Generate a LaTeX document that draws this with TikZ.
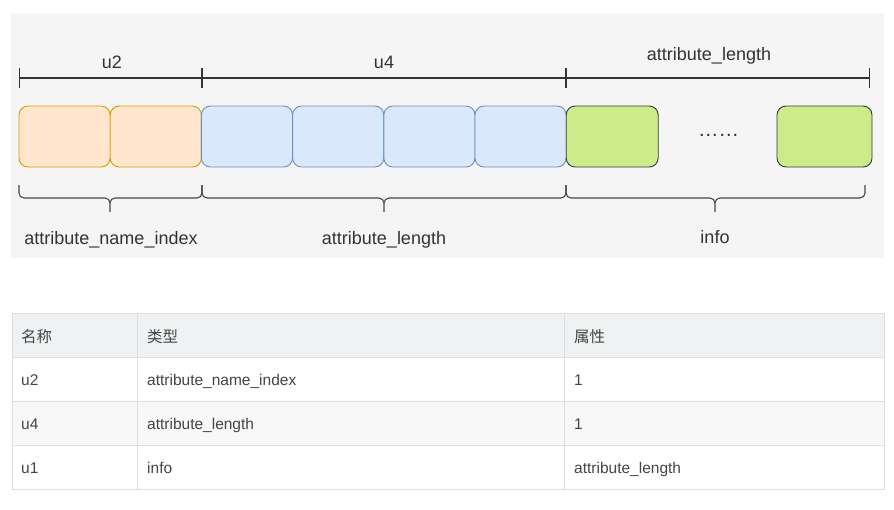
\documentclass[tikz,border=0pt]{standalone}
\usepackage{fontspec}
\setmainfont{Liberation Sans}
\newfontfamily\cjk{Noto Sans CJK SC}
\usetikzlibrary{arrows.meta,positioning}
\definecolor{nameF}{HTML}{FFE6CC}\definecolor{nameD}{HTML}{D79B00}
\definecolor{lenF}{HTML}{DAE8FC}\definecolor{lenD}{HTML}{6C8EBF}
\definecolor{infoF}{HTML}{CDEB8B}\definecolor{infoD}{HTML}{36393D}
\definecolor{panel}{HTML}{F5F5F5}
\definecolor{ink}{HTML}{333333}
\definecolor{tabink}{HTML}{444444}
\definecolor{tabline}{HTML}{DDDDDD}
\definecolor{tabhead}{HTML}{EFF2F3}
\definecolor{tabstripe}{HTML}{F8F8F8}
\tikzset{
  cell/.style={draw,line width=0.9pt,rounded corners=9pt,minimum width=91.2pt,minimum height=61pt,inner sep=0,outer sep=0},
  lbl/.style={font=\fontsize{18}{22}\selectfont,text=ink,inner sep=0},
  dim/.style={draw=ink,line width=1.2pt,{Bar[width=20pt]}-{Bar[width=20pt]}},
  brk/.style={draw=ink!90,line width=1.1pt,rounded corners=5pt},
  tab/.style={font=\fontsize{15.5}{18}\selectfont,text=tabink,inner sep=0,anchor=base west}
}
\begin{document}
\begin{tikzpicture}[x=1pt,y=-1pt]
  \useasboundingbox (0,0) rectangle (894,509);
  \fill[panel] (11,13) rectangle (884,258);

  % byte cells
  \foreach \c [count=\n] in {name,name,len,len,len,len}
    \node[cell,fill=\c F,draw=\c D] (C\n) at ({19+45.6+(\n-1)*91.2},136.5) {};
  \node[cell,fill=infoF,draw=infoD,minimum width=92pt,right=0pt of C6] (C7) {};
  \node[cell,fill=infoF,draw=infoD,minimum width=95pt] (C8) at (824.5,136.5) {};
  \node[lbl,font=\fontsize{20.5}{22}\selectfont] (dots) at (718.5,135) {……};

  % sizes on top
  \coordinate (d0) at (19,78);
  \coordinate (d1) at (202,78);
  \coordinate (d2) at (566,78);
  \coordinate (d3) at (870,78);
  \draw[dim] (d0) -- (d1);
  \draw[dim] (d1) -- (d2);
  \draw[dim] (d2) -- (d3);
  \node[lbl,anchor=base] (s1) at (112,68) {u2};
  \node[lbl,anchor=base] (s2) at (384,68) {u4};
  \node[lbl,anchor=base] (s3) at (709,60) {attribute\_length};

  % braces below
  \foreach \l/\m/\r in {19/110/202,202/384/566,566/715/865}
    \draw[brk] (\l,185) |- (\m,198) -- (\m,212) (\r,185) |- (\m,198) -- (\m,212);
  \node[lbl,anchor=base] (f1) at (111,244) {attribute\_name\_index};
  \node[lbl,anchor=base] (f2) at (384,244) {attribute\_length};
  \node[lbl,anchor=base] (f3) at (715,243) {info};

  % table
  \fill[tabhead] (12,313) rectangle (884,357);
  \fill[tabstripe] (12,401) rectangle (884,445);
  \foreach \y in {357,401,445}
    \draw[tabline] (12,\y) -- (884,\y);
  \foreach \x in {137,564}
    \draw[tabline] (\x,313) -- (\x,489);
  \draw[tabline] (12,313) rectangle (884,489);
  \node[tab,font=\cjk\fontsize{15.5}{18}\selectfont] (T1a) at (21,342) {名称};
  \node[tab,font=\cjk\fontsize{15.5}{18}\selectfont] (T1b) at (147,342) {类型};
  \node[tab,font=\cjk\fontsize{15.5}{18}\selectfont] (T1c) at (574,342) {属性};
  \foreach \a/\b/\c [count=\r from 2] in {u2/attribute\_name\_index/1,u4/attribute\_length/1,u1/info/attribute\_length}
  {
    \node[tab] (T\r a) at (21,{335+44*(\r-1)+6}) {\a};
    \node[tab] (T\r b) at (147,{335+44*(\r-1)+6}) {\b};
    \node[tab] (T\r c) at (574,{335+44*(\r-1)+6}) {\c};
  }
\end{tikzpicture}
\end{document}
